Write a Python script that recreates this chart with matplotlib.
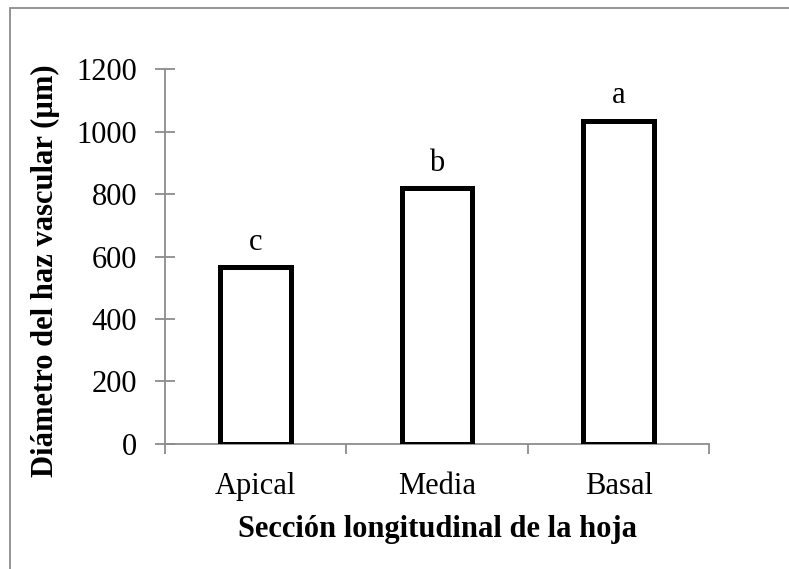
import numpy as np
import matplotlib.pyplot as plt
from matplotlib.patches import Rectangle

categories = ['Apical', 'Media', 'Basal']
diametro = [565, 820, 1035]
letras = ['c', 'b', 'a']

plt.rcParams['font.family'] = ['Liberation Serif', 'DejaVu Serif']

fig = plt.figure(figsize=(7.89, 5.69), dpi=100)
ax = fig.add_axes([0.209, 0.2197, 0.690, 0.659])

x = np.arange(len(categories))
ax.bar(x, diametro, width=0.39, color='white', edgecolor='black', linewidth=3.6, zorder=3)
for xi, v, l in zip(x, diametro, letras):
    ax.text(xi, v + 55, l, ha='center', va='baseline', fontsize=22)

ax.set_xlim(-0.5, 2.5)
ax.set_ylim(0, 1200)
ax.set_yticks(np.arange(0, 1201, 200))
ax.set_xticks(x)
ax.set_xticklabels(categories)
ax.set_xticks([-0.5, 0.5, 1.5, 2.5], minor=True)
ax.tick_params(axis='x', which='major', length=0, labelsize=22, pad=20)
ax.tick_params(axis='x', which='minor', length=7, width=1.3, color='#8c8c8c', direction='out')
ax.tick_params(axis='y', length=14, width=1.3, color='#8c8c8c', direction='inout',
               labelsize=22, pad=13)

for s in ['top', 'right']:
    ax.spines[s].set_visible(False)
for s in ['left', 'bottom']:
    ax.spines[s].set_color('#8c8c8c')
    ax.spines[s].set_linewidth(1.3)

ax.set_ylabel('Diámetro del haz vascular (µm)', fontsize=22, fontweight='bold')
ax.yaxis.set_label_coords(-0.193, 0.461)
ax.set_xlabel('Sección longitudinal de la hoja', fontsize=22, fontweight='bold', labelpad=10)

fig.patches.append(Rectangle((10 / 789, -0.05), 1.1, 1 - 8 / 569 + 0.05, transform=fig.transFigure,
                             fill=False, edgecolor='#8c8c8c', linewidth=1.3))

plt.savefig('out.png', dpi=100)
